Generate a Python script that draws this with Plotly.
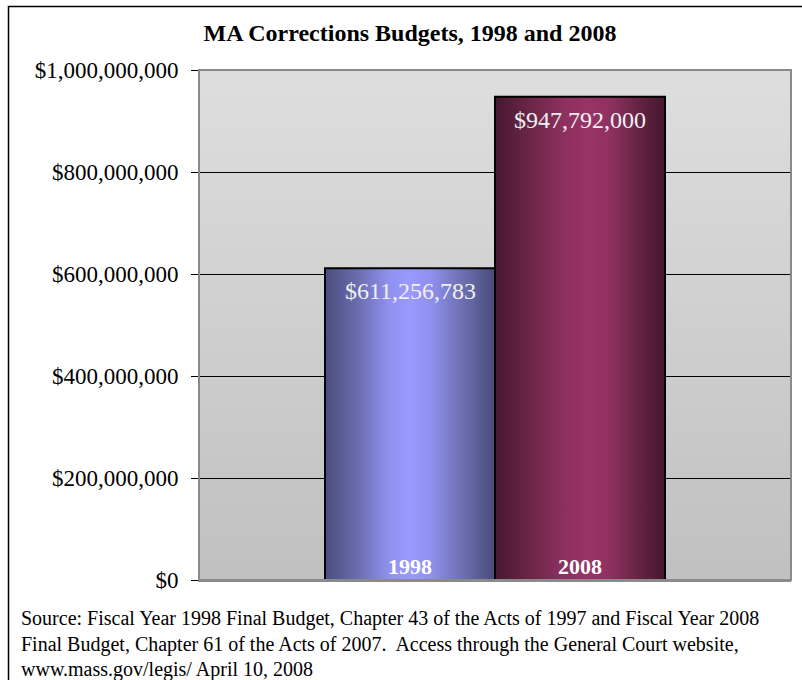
import plotly.graph_objects as go
from urllib.parse import quote

# Budget data
years = ["1998", "2008"]
budgets = [611256783, 947792000]
value_labels = ["$611,256,783", "$947,792,000"]
y_ticks = [0, 200000000, 400000000, 600000000, 800000000, 1000000000]
y_tick_labels = ["$0", "$200,000,000", "$400,000,000", "$600,000,000",
                 "$800,000,000", "$1,000,000,000"]

title_text = "MA Corrections Budgets, 1998 and 2008"
source_lines = [
    "Source: Fiscal Year 1998 Final Budget, Chapter 43 of the Acts of 1997 and Fiscal Year 2008",
    "Final Budget, Chapter 61 of the Acts of 2007.  Access through the General Court website,",
    "www.mass.gov/legis/ April 10, 2008",
]

# Page geometry (pixels)
W, H = 802, 680
PL, PR, PT, PB = 199, 791, 70, 580
pw, ph = PR - PL, PB - PT

def px_x(px):
    return (px - PL) / pw

def px_y(py):
    return (PB - py) / ph

SERIF = "Liberation Serif, Times New Roman, serif"

# x-axis: two adjacent bars sharing one category slot
bar_w = 1.0
centers = [-0.5, 0.5]
half_span = (pw / 2) / 170.0
x_lo, x_hi = -half_span, half_span
y_lo, y_hi = y_ticks[0], y_ticks[-1]

bar_scales = [
    [[0, "#4a4e7e"], [0.18, "#676bab"], [0.38, "#9191f0"], [0.5, "#9999ff"],
     [0.62, "#9090ee"], [0.82, "#6a6eae"], [1, "#474b79"]],
    [[0, "#461830"], [0.18, "#662444"], [0.4, "#8c305e"], [0.55, "#993366"],
     [0.68, "#8e3160"], [0.85, "#642342"], [1, "#441730"]],
]

# plot-area background: light grey at the top fading to darker grey
bg_svg = (
    '<svg xmlns="http://www.w3.org/2000/svg" width="100" height="100" '
    'preserveAspectRatio="none" viewBox="0 0 100 100">'
    '<defs><linearGradient id="g" x1="0" y1="0" x2="0" y2="1">'
    '<stop offset="0" stop-color="#dedede"/><stop offset="1" stop-color="#c0c0c0"/>'
    '</linearGradient></defs><rect width="100" height="100" fill="url(#g)"/></svg>'
)
bg_src = "data:image/svg+xml;charset=utf-8," + quote(bg_svg)

fig = go.Figure()

# bars with horizontal shading
for c, v, yr, cs in zip(centers, budgets, years, bar_scales):
    x0, x1 = c - bar_w / 2, c + bar_w / 2
    fig.add_trace(go.Scatter(
        x=[x0, x1, x1, x0, x0], y=[0, 0, v, v, 0],
        mode="lines", line=dict(color="#000000", width=2), fill="toself",
        fillgradient=dict(type="horizontal", colorscale=cs),
        name=yr, hoverinfo="skip", showlegend=False,
    ))

annotations = []
for c, v, lab, yr in zip(centers, budgets, value_labels, years):
    annotations.append(dict(
        x=c, y=v, xref="x", yref="y", text=lab, showarrow=False,
        yanchor="middle", yshift=-23,
        font=dict(family=SERIF, size=24, color="#f0f0f4"),
    ))
    annotations.append(dict(
        x=c, y=0, xref="x", yref="y", text="<b>" + yr + "</b>", showarrow=False,
        yanchor="middle", yshift=14,
        font=dict(family=SERIF, size=22, color="#ffffff"),
    ))

# source note
line_top, line_gap = 605, 25.5
for i, ln in enumerate(source_lines):
    annotations.append(dict(
        x=px_x(19), y=px_y(line_top + i * line_gap), xref="paper", yref="paper",
        text=ln, showarrow=False, xanchor="left", yanchor="top", align="left",
        font=dict(family=SERIF, size=20, color="#000000"),
    ))

shapes = [
    # plot-area frame
    dict(type="rect", xref="paper", yref="paper", x0=0, x1=1, y0=0, y1=1,
         line=dict(color="#8a8a8a", width=2), layer="above"),
    # outer chart border
    dict(type="path", xref="paper", yref="paper",
         path=f"M {px_x(8.5)} {px_y(H + 2)} L {px_x(8.5)} {px_y(6.5)} L {px_x(W + 2)} {px_y(6.5)}",
         line=dict(color="#000000", width=1.5)),
]

fig.update_layout(
    width=W, height=H,
    margin=dict(l=PL, r=W - PR, t=PT, b=H - PB),
    paper_bgcolor="#ffffff", plot_bgcolor="rgba(0,0,0,0)",
    images=[dict(source=bg_src, xref="paper", yref="paper", x=0, y=1,
                 sizex=1, sizey=1, xanchor="left", yanchor="top",
                 sizing="stretch", layer="below")],
    title=dict(text="<b>" + title_text + "</b>", xref="container", yref="container",
               x=410 / W, xanchor="center", y=1 - 33 / H, yanchor="middle",
               font=dict(family=SERIF, size=24, color="#000000")),
    xaxis=dict(range=[x_lo, x_hi], showgrid=False, zeroline=False,
               showticklabels=False, ticks="", showline=True,
               linecolor="#8a8a8a", linewidth=2, fixedrange=True),
    yaxis=dict(range=[y_lo, y_hi], tickvals=y_ticks, ticktext=y_tick_labels,
               showgrid=True, gridcolor="#000000", gridwidth=1, zeroline=False,
               ticks="outside", ticklen=7, tickcolor="#000000", tickwidth=1,
               showline=True, linecolor="#000000", linewidth=1,
               ticklabelstandoff=8,
               tickfont=dict(family=SERIF, size=23, color="#000000"),
               fixedrange=True),
    annotations=annotations, shapes=shapes, showlegend=False,
)

fig.write_html("out.html")
